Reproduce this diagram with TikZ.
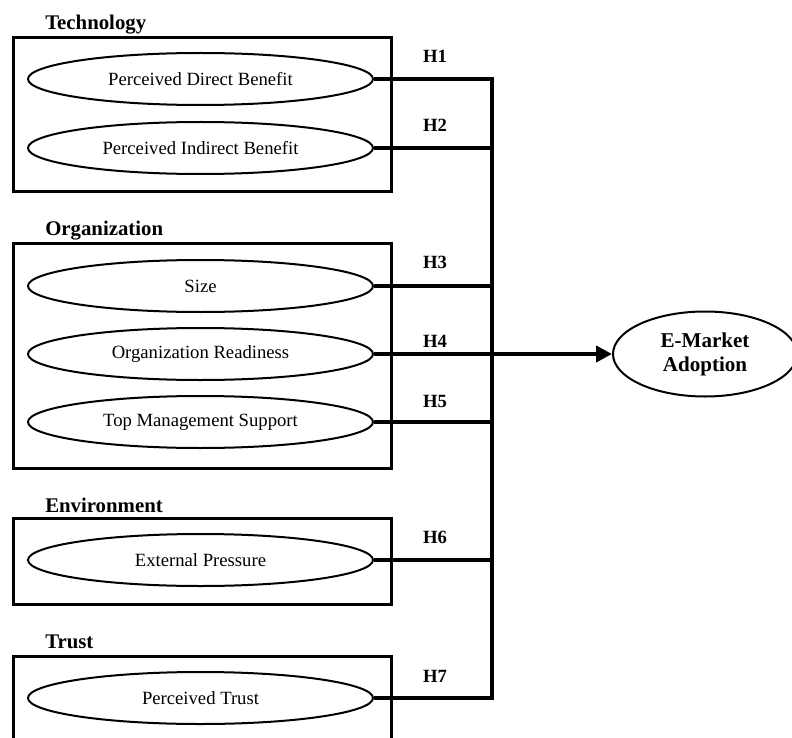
\documentclass[tikz,border=0pt]{standalone}
\usepackage{fontspec}
\setmainfont{Liberation Serif}
\usetikzlibrary{shapes.geometric,arrows.meta}
\tikzset{
  grp/.style={draw, line width=2.25pt, inner sep=0pt, anchor=north west},
  fac/.style={draw, ellipse, line width=1.5pt, inner sep=0pt,
    minimum width=258.75pt, minimum height=39pt, font=\fontsize{14}{16}\selectfont},
  ttl/.style={anchor=base west, inner sep=0pt, font=\fontsize{15.6}{18}\selectfont\bfseries},
  hyp/.style={anchor=base, inner sep=0pt, font=\fontsize{14}{16}\selectfont\bfseries},
  conn/.style={line width=3pt},
}
\begin{document}
\begin{tikzpicture}[x=0.75pt,y=-0.75pt]
\useasboundingbox (0,0) rectangle (792,738);
\clip (0,0) rectangle (792,738);
% group boxes
\node[grp, minimum width=283.5pt, minimum height=115.5pt] (tech) at (12,36) {};
\node[grp, minimum width=283.5pt, minimum height=168.75pt] (org) at (12,242) {};
\node[grp, minimum width=283.5pt, minimum height=64.5pt] (env) at (12,517) {};
\node[grp, minimum width=283.5pt, minimum height=75pt] (trust) at (12,655) {};
% titles
\node[ttl] (ttech) at (45,30) {Technology};
\node[ttl] (torg) at (45,235) {Organization};
\node[ttl] (tenv) at (45,512) {Environment};
\node[ttl] (ttrust) at (45,648) {Trust};
% factor ellipses
\node[fac] (e1) at (200.5,79) {Perceived Direct Benefit};
\node[fac] (e2) at (200.5,148) {Perceived Indirect Benefit};
\node[fac] (e3) at (200.5,286) {Size};
\node[fac] (e4) at (200.5,354) {Organization Readiness};
\node[fac] (e5) at (200.5,422) {Top Management Support};
\node[fac] (e6) at (200.5,560) {External Pressure};
\node[fac] (e7) at (200.5,698) {Perceived Trust};
% outcome
\node[draw, ellipse, line width=1.5pt, inner sep=0pt, minimum width=138pt, minimum height=63.75pt,
  align=center, font=\fontsize{15.8}{18}\selectfont\bfseries] (ema) at (705,354) {E-Market\\Adoption};
% junction points
\coordinate (j1) at (492,79);
\coordinate (j2) at (492,148);
\coordinate (j3) at (492,286);
\coordinate (j4) at (492,354);
\coordinate (j5) at (492,422);
\coordinate (j6) at (492,560);
% connectors
\draw[conn] (e1.east) -- (j1) |- (e7.east);
\draw[conn] (e2.east) -- (j2);
\draw[conn] (e3.east) -- (j3);
\draw[conn] (e4.east) -- (j4);
\draw[conn] (e5.east) -- (j5);
\draw[conn] (e6.east) -- (j6);
\draw[conn, -{Triangle[length=12pt,width=12pt]}] (j4) -- (ema.west);
% hypothesis labels
\node[hyp] (h1) at (435,63) {H1};
\node[hyp] (h2) at (435,132) {H2};
\node[hyp] (h3) at (435,268) {H3};
\node[hyp] (h4) at (435,347) {H4};
\node[hyp] (h5) at (435,407) {H5};
\node[hyp] (h6) at (435,543) {H6};
\node[hyp] (h7) at (435,682) {H7};
\end{tikzpicture}
\end{document}
